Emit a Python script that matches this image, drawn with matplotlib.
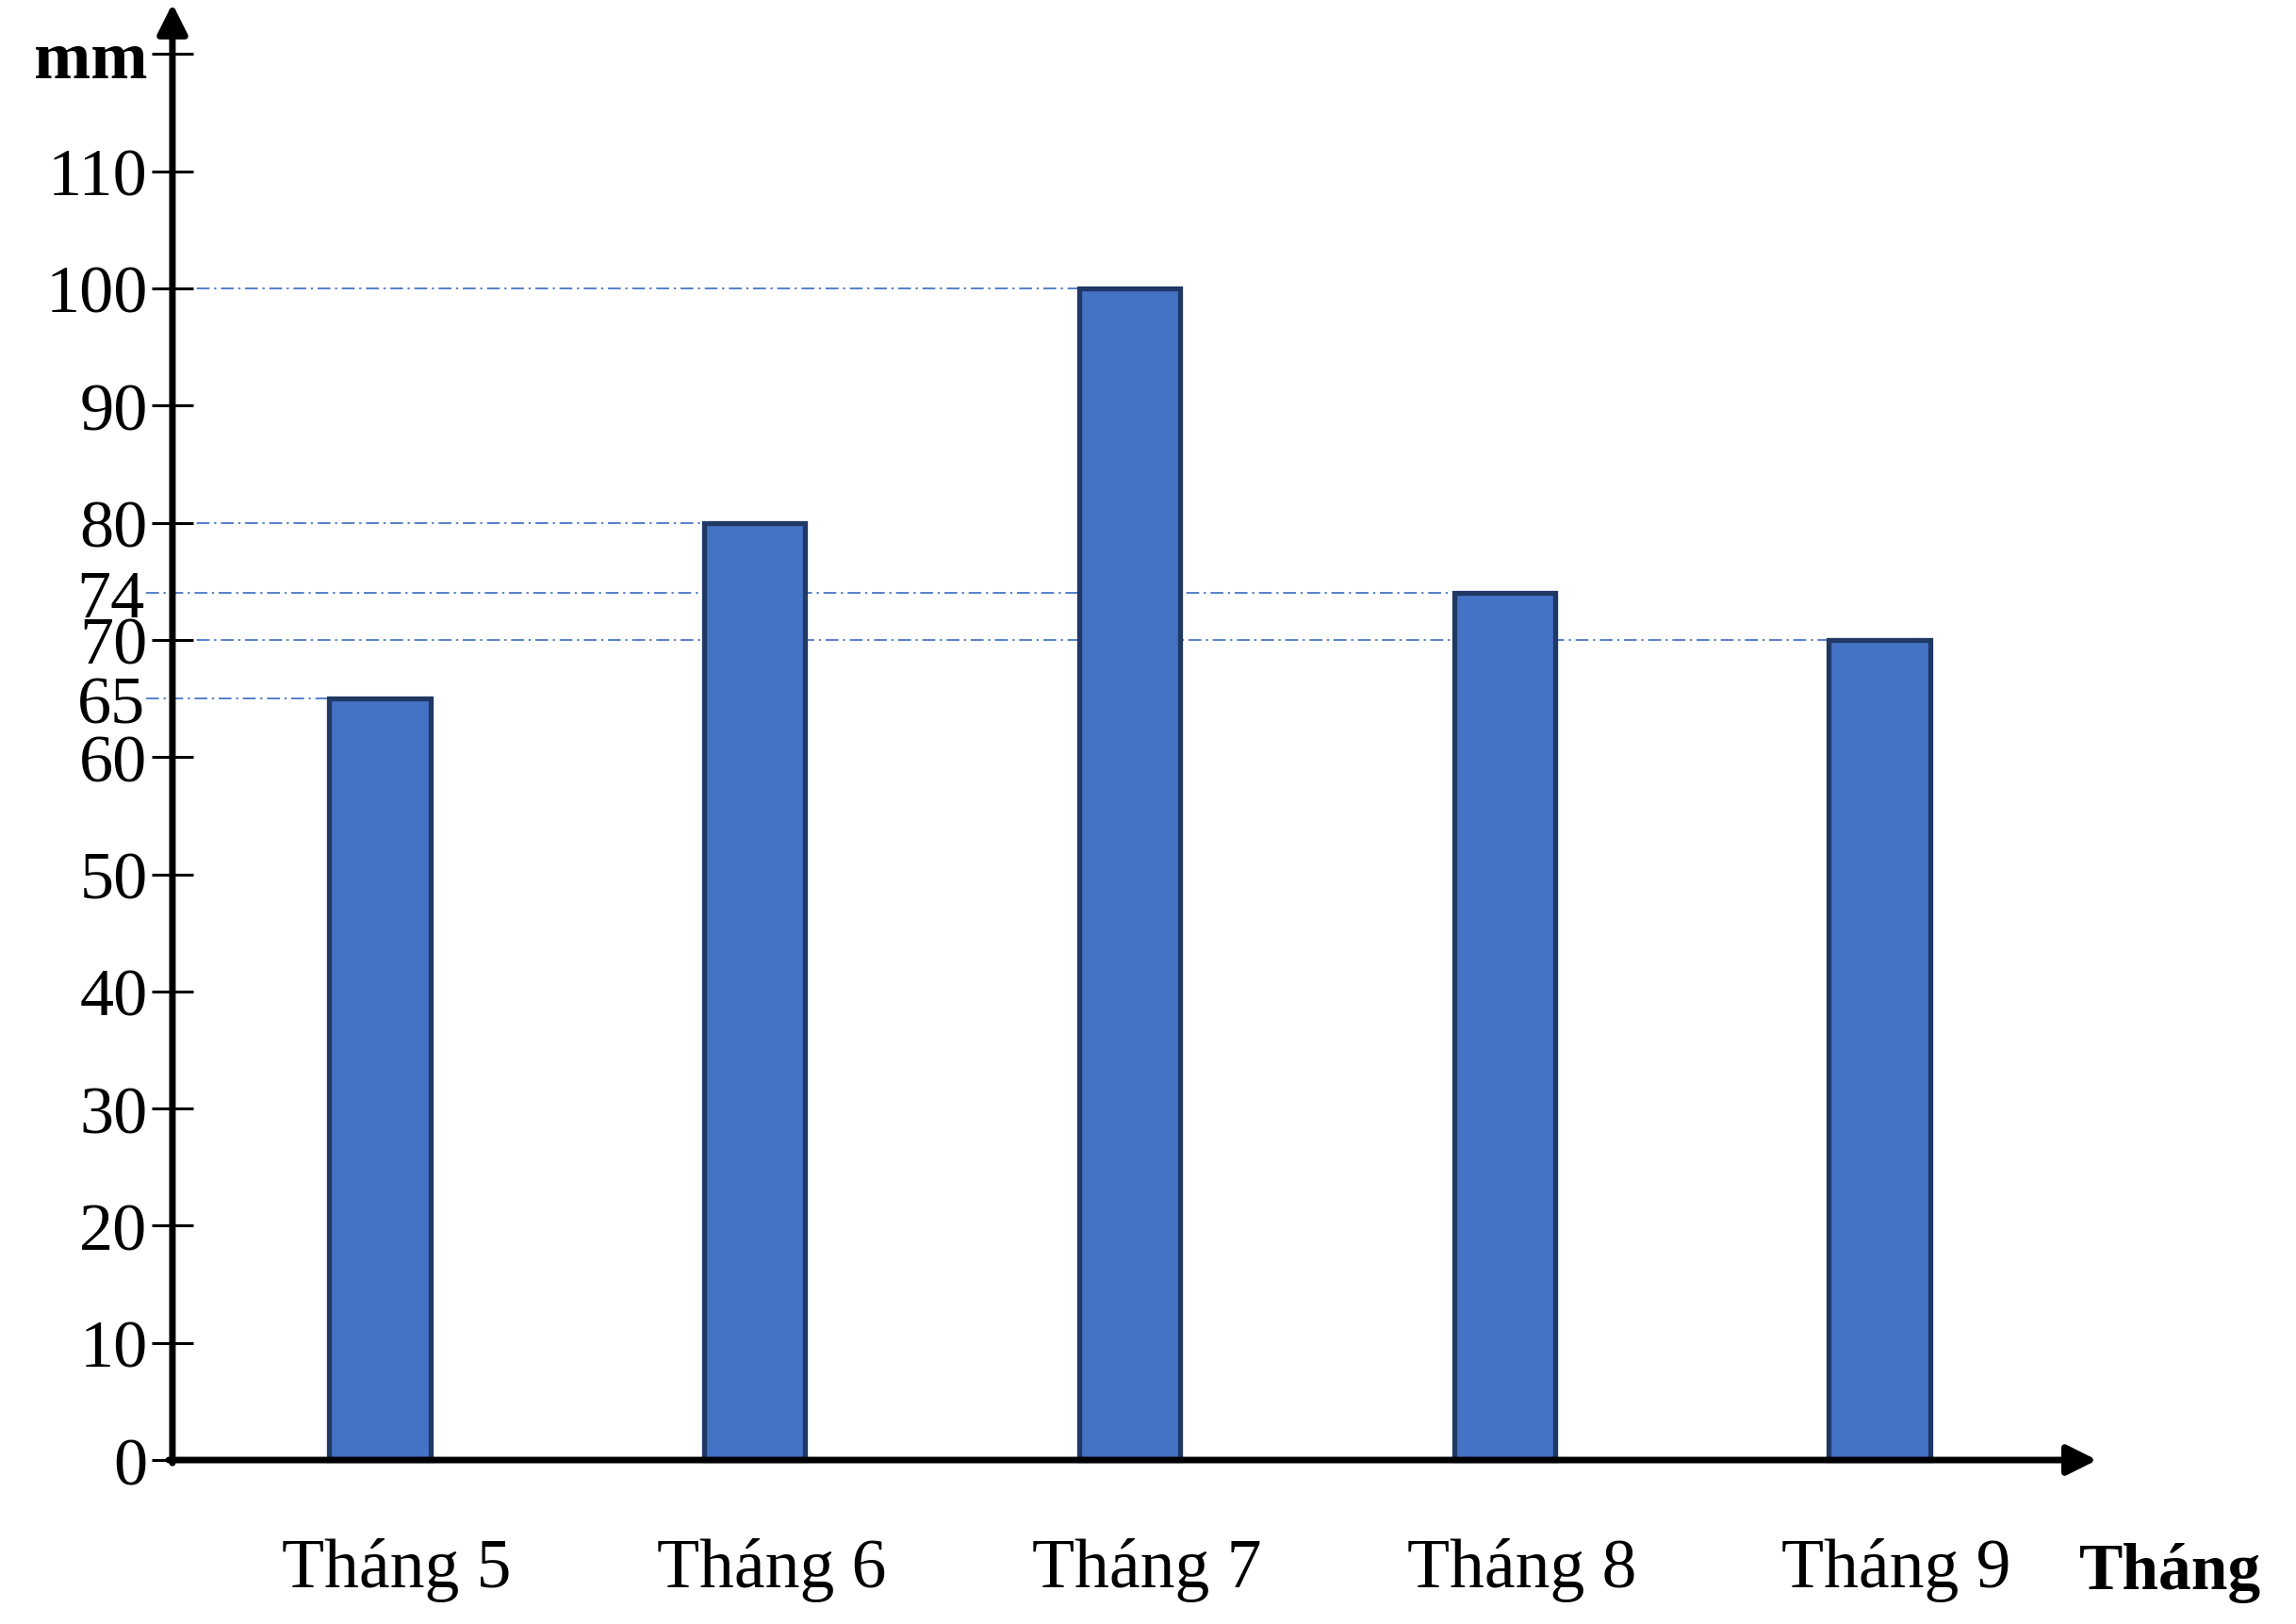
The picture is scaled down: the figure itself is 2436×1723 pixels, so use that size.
import matplotlib
matplotlib.use("Agg")
import matplotlib.pyplot as plt

plt.rcParams['font.family'] = ['Liberation Serif', 'DejaVu Serif']

# data
months = ['Tháng 5', 'Tháng 6', 'Tháng 7', 'Tháng 8', 'Tháng 9']
rainfall = [65, 80, 100, 74, 70]
major_ticks = [0, 10, 20, 30, 40, 50, 60, 70, 80, 90, 100, 110, 120]
major_labels = ['0', '10', '20', '30', '40', '50', '60', '70', '80', '90', '100', '110', 'mm']
extra_ticks = [65, 74]

bar_face = '#4472C4'
bar_edge = '#1F3864'
guide_color = '#4472C4'

fig = plt.figure(figsize=(24.36, 17.24), dpi=100)
ax = fig.add_axes([0.0751, 0.0937, 0.866, 0.9056])

x = list(range(1, len(months) + 1))
x0 = 0.447  # where the two axes cross
bar_w = 0.27

ax.bar(x, rainfall, width=bar_w, color=bar_face, edgecolor=bar_edge,
       linewidth=3.8, zorder=3)

# dash-dot guide lines from the y axis to each bar top
for xi, v in zip(x, rainfall):
    start = x0 if v in major_ticks else x0 - 0.07
    ax.plot([start, xi - bar_w / 2], [v, v], color=guide_color, lw=1.4,
            alpha=0.9, linestyle=(0, (7, 2.5, 1.2, 2.5)), zorder=1,
            clip_on=False)

ax.set_xlim(x0, 5.75)
ax.set_ylim(-1, 124.6)

for s in ax.spines.values():
    s.set_visible(False)

# axes drawn as arrows
arrow = dict(arrowstyle='-|>', lw=5, color='black', mutation_scale=48,
             shrinkA=0, shrinkB=0)
ax.annotate('', xy=(x0, 124.3), xytext=(x0, -0.25), arrowprops=arrow,
            annotation_clip=False, zorder=5)
ax.annotate('', xy=(5.58, 0), xytext=(x0 - 0.01, 0), arrowprops=arrow,
            annotation_clip=False, zorder=5)

ax.set_xticks([])
ax.set_yticks(major_ticks)
ax.set_yticklabels(major_labels)
ax.tick_params(axis='y', which='major', direction='inout', length=32,
               width=2.2, pad=3, labelsize=52)
ax.get_yticklabels()[-1].set_fontweight('bold')

ax.set_yticks(extra_ticks, minor=True)
ax.set_yticklabels([str(t) for t in extra_ticks], minor=True)
ax.tick_params(axis='y', which='minor', length=0, pad=21, labelsize=52)

for xi, name in zip(x, months):
    ax.text(xi + 0.045, -9.3, name, ha='center', va='center', fontsize=53,
            clip_on=False)
ax.text(5.775, -9.6, 'Tháng', ha='center', va='center', fontsize=50,
        fontweight='bold', clip_on=False)

plt.savefig('out.png', dpi=100)
